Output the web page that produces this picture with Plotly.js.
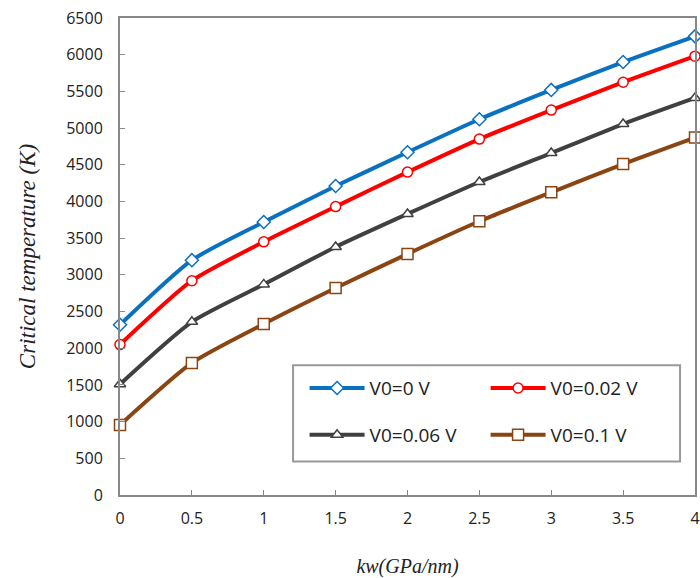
<!DOCTYPE html>
<html><head><meta charset="utf-8">
<script src="https://cdn.plot.ly/plotly-3.0.1.min.js"></script>
<style>html,body{margin:0;padding:0;background:#fff}#c{width:700px;height:578px}</style>
</head><body><div id="c"></div>
<script>
const kw = [0, 0.5, 1, 1.5, 2, 2.5, 3, 3.5, 4];
const v0_0 = [2320, 3200, 3720, 4210, 4670, 5120, 5520, 5900, 6250];
const v0_002 = [2050, 2920, 3450, 3930, 4400, 4850, 5245, 5625, 5980];
const v0_006 = [1510, 2360, 2870, 3380, 3830, 4265, 4660, 5055, 5410];
const v0_01 = [955, 1800, 2330, 2820, 3285, 3730, 4125, 4510, 4870];
const names = ["V0=0 V", "V0=0.02 V", "V0=0.06 V", "V0=0.1 V"];
const xTicks = [0, 0.5, 1, 1.5, 2, 2.5, 3, 3.5, 4];
const xTickText = ["0", "0.5", "1", "1.5", "2", "2.5", "3", "3.5", "4"];

function tr(y, name, color, symbol, legend) {
  return {x: kw, y: y, name: name, type: 'scatter', mode: 'lines+markers',
    line: {color: color, width: 4, shape: 'spline', smoothing: 0.6},
    marker: {symbol: symbol, size: symbol === 'square' ? 11 : 10, color: '#fff', line: {color: color, width: 1.5}},
    legend: legend, cliponaxis: false};
}
const data = [
  tr(v0_0, names[0], '#0a70c0', 'diamond', 'legend'),
  tr(v0_002, names[1], '#ff0000', 'circle', 'legend'),
  tr(v0_006, names[2], '#404040', 'triangle-up', 'legend2'),
  tr(v0_01, names[3], '#8b4513', 'square', 'legend2')
];
const legBase = {orientation: 'h', bgcolor: 'rgba(0,0,0,0)', borderwidth: 0,
  font: {family: 'Open Sans, Liberation Sans, sans-serif', size: 19, color: '#222'},
  entrywidth: 111, itemwidth: 55, xanchor: 'left', yanchor: 'middle'};
const layout = {
  width: 700, height: 578,
  margin: {l: 120, r: 5, t: 18, b: 83},
  paper_bgcolor: '#fff', plot_bgcolor: '#fff',
  showlegend: true,
  legend: Object.assign({}, legBase, {x: 0.321, y: 0.224}),
  legend2: Object.assign({}, legBase, {x: 0.321, y: 0.126}),
  xaxis: {range: [0, 4], tickvals: xTicks, ticktext: xTickText, ticks: 'inside', ticklen: 5, tickcolor: '#888',
    showgrid: false, zeroline: false, showline: true, linecolor: '#888', linewidth: 2, mirror: true,
    ticklabelstandoff: 8,
    tickfont: {family: 'Open Sans, Liberation Sans, sans-serif', size: 16, color: '#222'},
    title: {text: 'kw(GPa/nm)', font: {family: 'Liberation Serif, serif', size: 20, color: '#222', style: 'italic'}, standoff: 33}},
  yaxis: {range: [0, 6500], dtick: 500, ticks: 'inside', ticklen: 5, tickcolor: '#888',
    showgrid: false, zeroline: false, showline: true, linecolor: '#888', linewidth: 2, mirror: true,
    ticklabelstandoff: 12,
    tickfont: {family: 'Open Sans, Liberation Sans, sans-serif', size: 16, color: '#222'},
    title: {text: 'Critical temperature (K)', font: {family: 'Liberation Serif, serif', size: 23, color: '#222', style: 'italic'}, standoff: 24}},
  shapes: [{type: 'rect', xref: 'paper', yref: 'paper', x0: 0.301, x1: 0.974, y0: 0.07, y1: 0.272,
    line: {color: '#999', width: 2}, fillcolor: '#fff', layer: 'below'}]
};
Plotly.newPlot('c', data, layout, {displayModeBar: false, staticPlot: true});
</script></body></html>
